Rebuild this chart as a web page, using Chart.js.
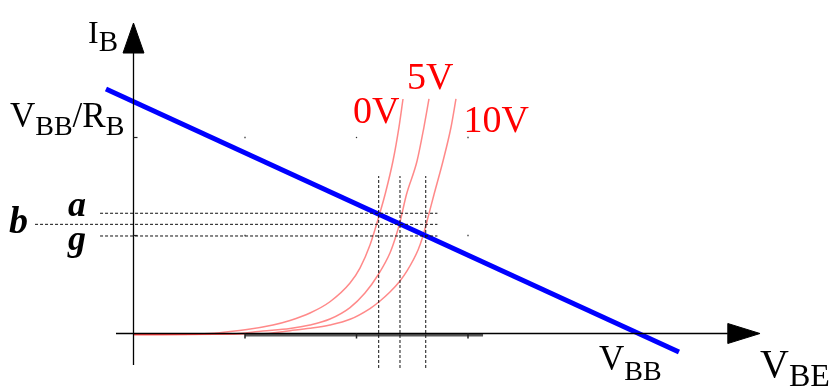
<!DOCTYPE html>
<html><head><meta charset="utf-8">
<script src="https://cdn.jsdelivr.net/npm/chart.js@4.4.1/dist/chart.umd.min.js"></script>
<style>html,body{margin:0;padding:0;background:#fff;}#wrap{width:830px;height:387px;position:relative;}</style>
</head><body><div id="wrap"><canvas id="c"></canvas></div>
<script>
// ---- data (x: V_BE in grid units, y: I_B in grid units) ----
const curve0V_x = [0, 0.596, 1.018, 1.251, 1.404, 1.583, 1.762, 1.942, 2.031, 2.121, 2.211, 2.256, 2.327, 2.381, 2.417];
const curve0V_y = [-0.010, -0.005, 0.041, 0.087, 0.133, 0.209, 0.324, 0.515, 0.668, 0.903, 1.235, 1.418, 1.760, 2.107, 2.393];
const curve5V_x = [0, 0.865, 1.161, 1.404, 1.583, 1.762, 1.942, 2.076, 2.193, 2.300, 2.354, 2.390, 2.448, 2.543, 2.605, 2.650];
const curve5V_y = [-0.010, -0.005, 0.026, 0.051, 0.087, 0.148, 0.265, 0.413, 0.597, 0.821, 0.995, 1.138, 1.418, 1.760, 2.107, 2.393];
const curve10V_x = [0, 1.135, 1.404, 1.583, 1.762, 1.942, 2.121, 2.211, 2.300, 2.390, 2.453, 2.552, 2.596, 2.641, 2.695, 2.776, 2.848, 2.892];
const curve10V_y = [-0.010, -0.005, 0.029, 0.053, 0.087, 0.145, 0.255, 0.332, 0.423, 0.536, 0.638, 0.852, 0.995, 1.184, 1.418, 1.760, 2.107, 2.393];
const loadLine_x = [-0.247, 4.892];
const loadLine_y = [2.495, -0.189];
const qPoint_x = [2.199, 2.390, 2.621];       // vertical dashed guides
const qPoint_y = [1.227, 1.114, 0.995];       // horizontal dashed guides (a, b, g)
const curveLabels = ['0V', '5V', '10V'];
const levelLabels = ['a', 'b', 'g'];
const tickX = [1, 2, 3];
const tickY = [1, 2];

// ---- scale extent ----
const X_MIN = -1.1973, X_MAX = 6.2466, Y_MIN = -0.5459, Y_MAX = 3.4031;

const zip = (xs, ys) => xs.map((x, i) => ({x, y: ys[i]}));
const RED = 'rgba(255,40,40,0.55)';
const datasets = [];

function line(pts, opts) { datasets.push(Object.assign({data: pts, showLine: true, pointRadius: 0, borderWidth: 1, borderColor: '#000', fill: false}, opts)); }

// red characteristic curves
line(zip(curve0V_x, curve0V_y), {borderColor: RED, borderWidth: 1.5, cubicInterpolationMode: 'monotone', order: 6});
line(zip(curve5V_x, curve5V_y), {borderColor: RED, borderWidth: 1.5, cubicInterpolationMode: 'monotone', order: 6});
line(zip(curve10V_x, curve10V_y), {borderColor: RED, borderWidth: 1.5, cubicInterpolationMode: 'monotone', order: 6});
// load line
line(zip(loadLine_x, loadLine_y), {borderColor: '#0000ff', borderWidth: 5, order: 5});
// dashed guides
const guideTop = 1.607, guideBottom = -0.352, hLeft = -0.300, bLeft = -0.883, hRight = 2.726;
qPoint_x.forEach(x => line([{x, y: guideBottom}, {x, y: guideTop}], {borderDash: [3, 2], order: 3, borderColor: '#111'}));
qPoint_y.forEach((y, i) => line([{x: i === 1 ? bLeft : hLeft, y}, {x: hRight, y}], {borderDash: [3, 2], order: 3, borderColor: '#111'}));
// thick gray segment on the axis
line([{x: tickX[0], y: -0.012}, {x: 3.135, y: -0.012}], {borderColor: 'rgba(70,70,70,0.9)', borderWidth: 3.5, order: 4});
// axes
line([{x: -0.157, y: 0}, {x: 5.33, y: 0}], {borderColor: '#000', borderWidth: 1.3, order: 2});
line([{x: 0, y: -0.321}, {x: 0, y: 2.862}], {borderColor: '#000', borderWidth: 1.3, order: 2});
// arrow heads
line([{x: 5.33, y: 0.102}, {x: 5.619, y: 0}, {x: 5.33, y: -0.102}, {x: 5.33, y: 0.102}], {borderColor: '#000', backgroundColor: '#000', fill: 'shape', borderWidth: 1, order: 1});
line([{x: -0.094, y: 2.862}, {x: 0, y: 3.168}, {x: 0.094, y: 2.862}, {x: -0.094, y: 2.862}], {borderColor: '#000', backgroundColor: '#000', fill: 'shape', borderWidth: 1, order: 1});
// ticks
datasets.push({data: tickX.map(x => ({x, y: -0.0255})), showLine: false, pointStyle: 'line', rotation: 90, pointRadius: 2.5, pointBorderColor: '#222', pointBorderWidth: 1.5, order: 1});
datasets.push({data: tickY.map(y => ({x: 0.018, y})), showLine: false, pointStyle: 'line', rotation: 0, pointRadius: 2, pointBorderColor: '#222', pointBorderWidth: 1.2, order: 1});
// grid dots
const dots = [];
tickX.forEach(x => tickY.forEach(y => dots.push({x, y})));
datasets.push({data: dots, showLine: false, pointStyle: 'rect', pointRadius: 0.9, pointBackgroundColor: '#333', pointBorderWidth: 0, order: 1});

// ---- text labels (anchored in data coordinates) ----
const SERIF = '"Liberation Serif","Times New Roman",serif';
const texts = [
  {x: -0.408, y: 2.964, parts: [['I', 32, 0], ['B', 29, 8]], color: '#000'},
  {x: -1.108, y: 2.107, parts: [['V', 35, 0], ['BB', 28, 8], ['/', 35, 0], ['R', 35, 0], ['B', 28, 8]], color: '#000'},
  {x: 4.175, y: -0.372, parts: [['V', 35, 0], ['BB', 28, 10]], color: '#000'},
  {x: 5.619, y: -0.444, parts: [['V', 40, 0], ['BE', 32, 9]], color: '#000'},
  {x: 1.969, y: 2.148, parts: [[curveLabels[0], 38, 0]], color: '#ff0000'},
  {x: 2.453, y: 2.495, parts: [[curveLabels[1], 38, 0]], color: '#ff0000'},
  {x: 2.960, y: 2.056, parts: [[curveLabels[2], 38, 0]], color: '#ff0000'},
  {x: -0.587, y: 1.199, parts: [[levelLabels[0], 36, 0]], color: '#000', style: 'italic bold '},
  {x: -1.117, y: 1.026, parts: [[levelLabels[1], 38, 0]], color: '#000', style: 'italic bold '},
  {x: -0.587, y: 0.852, parts: [[levelLabels[2], 36, 0]], color: '#000', style: 'italic bold '},
];
const textPlugin = {
  id: 'texts',
  afterDraw(chart) {
    const {ctx, scales: {x: sx, y: sy}} = chart;
    ctx.save();
    ctx.textBaseline = 'alphabetic';
    ctx.textAlign = 'left';
    texts.forEach(t => {
      let px = sx.getPixelForValue(t.x);
      const py = sy.getPixelForValue(t.y);
      ctx.fillStyle = t.color;
      t.parts.forEach(([s, size, dy]) => {
        ctx.font = (t.style || '') + size + 'px ' + SERIF;
        ctx.fillText(s, px, py + dy);
        px += ctx.measureText(s).width;
      });
    });
    ctx.restore();
  }
};

new Chart(document.getElementById('c'), {
  type: 'scatter',
  data: {datasets},
  options: {
    responsive: true, maintainAspectRatio: false, animation: false, events: [],
    layout: {padding: 0, autoPadding: false},
    plugins: {legend: {display: false}, tooltip: {enabled: false}},
    scales: {
      x: {type: 'linear', min: X_MIN, max: X_MAX, display: false},
      y: {type: 'linear', min: Y_MIN, max: Y_MAX, display: false}
    }
  },
  plugins: [textPlugin]
});
</script></body></html>
